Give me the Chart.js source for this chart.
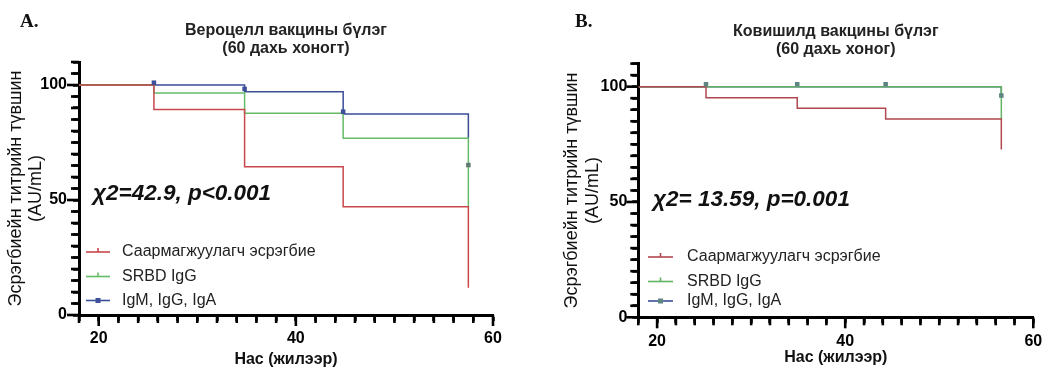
<!DOCTYPE html>
<html><head><meta charset="utf-8">
<script src="https://cdn.jsdelivr.net/npm/chart.js@4.4.1/dist/chart.umd.min.js"></script>
<style>
html,body{margin:0;padding:0;background:#fff;width:1044px;height:369px;overflow:hidden;position:relative;}
canvas{position:absolute;top:0;}
#ca{left:0;}
#cb{left:522px;}
</style></head><body>
<canvas id="ca" width="522" height="369"></canvas>
<canvas id="cb" width="600" height="369"></canvas>
<script>
// ---------- DATA ----------
const seriesNames = ['Саармагжуулагч эсрэгбие', 'SRBD IgG', 'IgM, IgG, IgA'];
const xTickLabels = ['20', '40', '60'];
const yTickLabels = ['0', '50', '100'];

// Panel A: Вероцелл (60 дахь хоногт)
const titleA = ['Вероцелл вакцины бүлэг', '(60 дахь хоногт)'];
const statA = 'χ2=42.9, p<0.001';
const ageA = [18, 25.6, 34.8, 44.8, 57.5];
const neutA = [100, 89.4, 64.5, 47.1, 11.8];
const srbdA = [100, 96.5, 87.7, 76.9, 47.1];
const igA = [100, 100, 97.1, 87.4, 76.9];
const censorAgeA = [25.6, 34.8, 44.8];
const censorIgA = [101, 98.3, 88.4];
const censorAgeA2 = [57.5];
const censorSrbdA = [65.2];

// Panel B: Ковишилд (60 дахь хоног)
const titleB = ['Ковишилд вакцины бүлэг', '(60 дахь хоног)'];
const statB = 'χ2= 13.59, p=0.001';
const ageB = [18, 25.2, 34.9, 44.3, 56.6];
const neutB = [100, 95.2, 90.6, 86.0, 72.8];
const srbdB = [100, 100, 100, 100, 86.0];
const igB = [100, 100, 100, 100, 96.0];
const censorAgeB = [25.2, 34.9, 44.3];
const censorIgB = [101, 101, 101];
const censorAgeB2 = [56.6];
const censorSrbdB = [96.2];

// ---------- HELPERS ----------
const pts = (xs, ys) => xs.map((x, i) => ({x: x, y: ys[i]}));
const SANS = '"Liberation Sans", Arial, sans-serif';
const X_STEP = 2, Y_STEP = 5;

const decoPlugin = {
  id: 'kmDeco',
  afterDraw(chart, args, o) {
    const ctx = chart.ctx, ca = chart.chartArea, xs = chart.scales.x, ys = chart.scales.y;
    ctx.save();
    ctx.lineWidth = 2.6;
    ctx.strokeStyle = '#000';
    ys.ticks.forEach(t => {
      const y = ys.getPixelForValue(t.value);
      const major = yTickLabels.includes(String(t.value));
      ctx.beginPath(); ctx.moveTo(ca.left, y); ctx.lineTo(ca.left - (major ? 12 : 8), y); ctx.stroke();
    });
    xs.ticks.forEach(t => {
      const x = xs.getPixelForValue(t.value);
      const major = xTickLabels.includes(String(t.value));
      ctx.beginPath(); ctx.moveTo(x, ca.bottom); ctx.lineTo(x, ca.bottom + (major ? 11 : 8)); ctx.stroke();
    });
    ctx.fillStyle = '#111';
    ctx.textAlign = 'left';
    ctx.textBaseline = 'alphabetic';
    ctx.font = 'italic bold 22.5px ' + SANS;
    ctx.fillText(o.stat, o.statX, o.statY);
    ctx.font = 'bold 19px "Liberation Serif", "Times New Roman", serif';
    ctx.fillText(o.letter, o.letterX, o.letterY);
    ctx.restore();
  }
};

const legendPlugin = {
  id: 'kmLegend',
  afterDatasetsDraw(chart, args, o) {
    const ctx = chart.ctx;
    ctx.save();
    o.items.forEach((it, k) => {
      const ds = chart.data.datasets[it.ds];
      const y = o.ys[k];
      ctx.strokeStyle = ds.borderColor;
      ctx.lineWidth = 1.6;
      ctx.beginPath(); ctx.moveTo(o.x0, y); ctx.lineTo(o.x1, y); ctx.stroke();
      const cx = (o.x0 + o.x1) / 2;
      if (it.mark === 'tick') {
        ctx.beginPath(); ctx.moveTo(cx, y); ctx.lineTo(cx, y - 4); ctx.stroke();
      } else {
        ctx.fillStyle = it.markColor;
        ctx.fillRect(cx - 2.5, y - 2.5, 5, 5);
      }
      ctx.fillStyle = '#222';
      ctx.font = o.font;
      ctx.textAlign = 'left';
      ctx.textBaseline = 'middle';
      ctx.fillText(ds.label, o.tx, y);
    });
    ctx.restore();
  }
};

function makePanel(id, p) {
  return new Chart(document.getElementById(id), {
    type: 'line',
    data: {
      datasets: [
        {label: seriesNames[0], data: pts(p.age, p.neut), borderColor: p.red, borderWidth: 1.5, stepped: 'before', pointRadius: 0, fill: false},
        {label: seriesNames[1], data: pts(p.age, p.srbd), borderColor: p.green, borderWidth: 1.5, stepped: 'before', pointRadius: 0, fill: false},
        {label: seriesNames[2], data: pts(p.age, p.ig), borderColor: p.blue, borderWidth: 1.5, stepped: 'before', pointRadius: 0, fill: false},
        {label: 'censor-ig', data: pts(p.cAge, p.cIg), showLine: false, pointStyle: 'rect', pointRadius: 3.2, backgroundColor: p.mark1, borderColor: p.mark1, borderWidth: 0, order: -1},
        {label: 'censor-srbd', data: pts(p.cAge2, p.cSrbd), showLine: false, pointStyle: 'rect', pointRadius: 3.2, backgroundColor: p.mark2, borderColor: p.mark2, borderWidth: 0, order: -1}
      ]
    },
    options: {
      responsive: false,
      animation: false,
      devicePixelRatio: 1,
      layout: {padding: {left: 0, right: p.padRight, top: 0, bottom: 0}},
      plugins: {
        legend: {display: false},
        tooltip: {enabled: false},
        title: {
          display: true, fullSize: false, text: p.title, color: '#222',
          font: {family: SANS, size: 16, weight: 'bold', lineHeight: p.titleLH},
          padding: {top: p.titleTop, bottom: p.titleBottom}
        },
        kmDeco: {stat: p.stat, statX: p.statX, statY: p.statY, letter: p.letter, letterX: p.letterX, letterY: p.letterY},
        kmLegend: {
          items: [{ds: 0, mark: 'tick'}, {ds: 1, mark: 'tick'}, {ds: 2, mark: 'square', markColor: p.mark1}],
          ys: p.legYs, x0: p.legX0, x1: p.legX1, tx: p.legTx, font: '16px ' + SANS
        }
      },
      scales: {
        x: {
          type: 'linear', min: 18, max: 60,
          afterFit: s => { s.height = p.xH; },
          border: {display: true, color: '#000', width: 3},
          grid: {display: true, drawOnChartArea: false, drawTicks: true, tickLength: 6, tickWidth: 2.5, tickColor: '#000'},
          ticks: {stepSize: X_STEP, autoSkip: false, maxRotation: 0, padding: p.xTickPad, color: '#000',
                  font: {family: SANS, size: 16, weight: 'bold'},
                  callback: v => xTickLabels.includes(String(v)) ? String(v) : ''},
          title: {display: true, text: 'Нас (жилээр)', color: '#111', font: {family: SANS, size: 16, weight: 'bold'}, padding: {top: 0, bottom: p.xTitlePad}}
        },
        y: {
          type: 'linear', min: 0, max: 110,
          afterFit: s => { s.width = p.yW; },
          border: {display: true, color: '#000', width: 3},
          grid: {display: true, drawOnChartArea: false, drawTicks: true, tickLength: 6, tickWidth: 2.5, tickColor: '#000'},
          ticks: {stepSize: Y_STEP, autoSkip: false, padding: p.yTickPad, color: '#000',
                  font: {family: SANS, size: 16, weight: 'bold'},
                  callback: v => yTickLabels.includes(String(v)) ? String(v) : ''},
          title: {display: true, text: ['Эсрэгбиейн титрийн түвшин', '(AU/mL)'], color: '#111',
                  font: {family: SANS, size: 18, lineHeight: p.yTitleLH}, padding: {top: p.yTitlePad, bottom: 0}}
        }
      }
    },
    plugins: [decoPlugin, legendPlugin]
  });
}

makePanel('ca', {
  age: ageA, neut: neutA, srbd: srbdA, ig: igA,
  cAge: censorAgeA, cIg: censorIgA, cAge2: censorAgeA2, cSrbd: censorSrbdA,
  red: '#c9474b', green: '#66bb66', blue: '#3a4e96', mark1: '#3d5099', mark2: '#5f7a72',
  title: titleA, titleLH: 1.1, titleTop: 22, titleBottom: 4.8,
  padRight: 29, xH: 54, yW: 79, xTickPad: 8, xTitlePad: 0, yTickPad: 6, yTitleLH: 1.12, yTitlePad: 5.5,
  stat: statA, statX: 93, statY: 200, letter: 'A.', letterX: 20, letterY: 27,
  legYs: [252, 276.5, 300.5], legX0: 86, legX1: 110, legTx: 122
});

makePanel('cb', {
  age: ageB, neut: neutB, srbd: srbdB, ig: igB,
  cAge: censorAgeB, cIg: censorIgB, cAge2: censorAgeB2, cSrbd: censorSrbdB,
  red: '#b0474f', green: '#62b462', blue: '#3a4e96', mark1: '#5e8582', mark2: '#5e8582',
  title: titleB, titleLH: 1.156, titleTop: 22, titleBottom: 4.6,
  padRight: 88.7, xH: 51.7, yW: 116.3, xTickPad: 9, xTitlePad: 1.5, yTickPad: 5, yTitleLH: 1.17, yTitlePad: 39.5,
  stat: statB, statX: 131, statY: 206, letter: 'B.', letterX: 53, letterY: 27,
  legYs: [257, 281.5, 301], legX0: 126, legX1: 151, legTx: 165
});
</script>
</body></html>
